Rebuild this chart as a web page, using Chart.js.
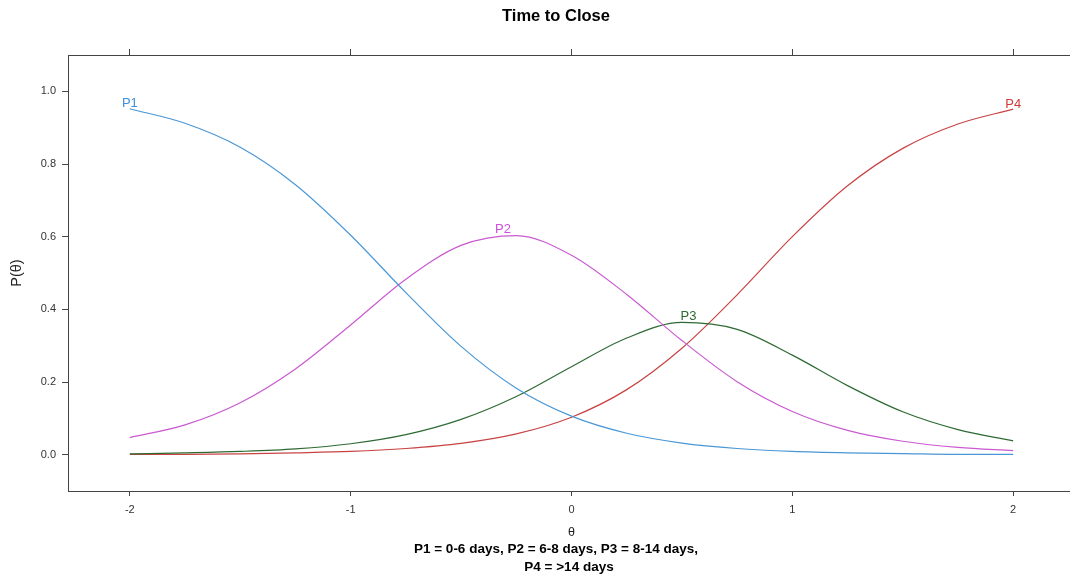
<!DOCTYPE html>
<html>
<head>
<meta charset="utf-8">
<script src="https://cdn.jsdelivr.net/npm/chart.js@4.4.0/dist/chart.umd.min.js"></script>
<style>
  html, body { margin: 0; padding: 0; background: #fff; overflow: hidden; }
  #wrap { width: 1075px; height: 577px; }
</style>
</head>
<body>
<div id="wrap"><canvas id="chartClose" width="1075" height="577"></canvas></div>
<script>
// theta grid and category probabilities
const theta = [-2, -1.75, -1.5, -1.25, -1, -0.75, -0.5, -0.25, 0, 0.25, 0.5, 0.75, 1, 1.25, 1.5, 1.75, 2];
const p1 = [0.952, 0.912, 0.846, 0.743, 0.604, 0.446, 0.298, 0.183, 0.106, 0.059, 0.032, 0.017, 0.009, 0.005, 0.003, 0.001, 0.001];
const p2 = [0.047, 0.082, 0.143, 0.236, 0.357, 0.483, 0.576, 0.603, 0.549, 0.441, 0.314, 0.201, 0.119, 0.067, 0.037, 0.020, 0.011];
const p3 = [0.002, 0.005, 0.009, 0.016, 0.030, 0.055, 0.097, 0.160, 0.242, 0.321, 0.364, 0.345, 0.274, 0.190, 0.118, 0.069, 0.038];
const p4 = [0.001, 0.001, 0.002, 0.005, 0.009, 0.017, 0.031, 0.057, 0.103, 0.179, 0.293, 0.440, 0.600, 0.740, 0.843, 0.910, 0.951];

const seriesNames = ["P1", "P2", "P3", "P4"];
const seriesColors = ["#4a97d6", "#c95ad0", "#2f6a34", "#c84444"];
const labelColors = ["#3f8fdc", "#cf4fdc", "#2c6a30", "#d03a3a"];
// where each curve label sits (theta, P)
const labelTheta = [-2, -0.31, 0.53, 2];
const labelP = [0.952, 0.606, 0.366, 0.951];

const xTicks = [-2, -1, 0, 1, 2];
const yTicks = [0, 0.2, 0.4, 0.6, 0.8, 1.0];

const fontFam = "'Liberation Sans', Arial, sans-serif";
const axisColor = "#444";

function pts(ys) {
    return theta.map((t, i) => ({ x: t, y: ys[i] }));
}

const allSeries = [p1, p2, p3, p4];

// draws title, axis titles, sub text and curve labels
const textPlugin = {
    id: "textPlugin",
    afterDraw(chart) {
        const c = chart.ctx;
        const xs = chart.scales.x, ys = chart.scales.y;
        const area = chart.chartArea;
        c.save();
        c.textAlign = "center";
        c.textBaseline = "middle";
        c.fillStyle = "#000";
        c.font = "bold 16.5px " + fontFam;
        c.fillText("Time to Close", 556, 16);

        c.fillStyle = "#222";
        c.font = "12.5px " + fontFam;
        c.fillText("\u03b8", (area.left + area.right) / 2, 533);

        c.fillStyle = "#000";
        c.font = "bold 13.5px " + fontFam;
        c.fillText("P1 = 0-6 days, P2 = 6-8 days, P3 = 8-14 days,", 556, 549);
        c.fillText("P4 = >14 days", 569, 567);

        c.save();
        c.translate(17, (area.top + area.bottom) / 2);
        c.rotate(-Math.PI / 2);
        c.fillStyle = "#222";
        c.font = "14.5px " + fontFam;
        c.fillText("P(\u03b8)", 0, 0);
        c.restore();

        c.font = "13px " + fontFam;
        seriesNames.forEach((n, i) => {
            c.fillStyle = labelColors[i];
            c.fillText(n, xs.getPixelForValue(labelTheta[i]), ys.getPixelForValue(labelP[i]) - 5);
        });
        c.restore();
    }
};

const xAxisBase = {
    type: "linear",
    min: -2.28,
    max: 2.28,
    afterBuildTicks: s => { s.ticks = xTicks.map(v => ({ value: v })); },
    grid: { drawOnChartArea: false, color: axisColor, tickLength: 5 },
    border: { color: axisColor, width: 1 }
};

new Chart(document.getElementById("chartClose"), {
    type: "line",
    data: {
        datasets: allSeries.map((s, i) => ({
            label: seriesNames[i],
            data: pts(s),
            borderColor: seriesColors[i],
            borderWidth: 1.2,
            pointRadius: 0,
            fill: false,
            cubicInterpolationMode: "monotone"
        }))
    },
    options: {
        responsive: false,
        animation: false,
        layout: { padding: 0 },
        plugins: {
            legend: { display: false },
            tooltip: { enabled: false },
            title: { display: false }
        },
        scales: {
            x: {
                ...xAxisBase,
                position: "bottom",
                afterFit: s => { s.height = 86; },
                ticks: {
                    color: "#333",
                    padding: 7,
                    maxRotation: 0,
                    font: { family: fontFam, size: 11 },
                    callback: v => String(v)
                }
            },
            x2: {
                ...xAxisBase,
                position: "top",
                afterFit: s => { s.height = 55; },
                grid: { drawOnChartArea: false, color: axisColor, tickLength: 6 },
                ticks: { display: false }
            },
            y: {
                type: "linear",
                min: -0.1,
                max: 1.1,
                afterFit: s => { s.width = 68; },
                afterBuildTicks: s => { s.ticks = yTicks.map(v => ({ value: v })); },
                grid: { drawOnChartArea: false, color: axisColor, tickLength: 6 },
                border: { color: axisColor, width: 1 },
                ticks: {
                    color: "#333",
                    padding: 6,
                    font: { family: fontFam, size: 11 },
                    callback: v => v.toFixed(1)
                }
            }
        }
    },
    plugins: [textPlugin]
});
</script>
</body>
</html>
